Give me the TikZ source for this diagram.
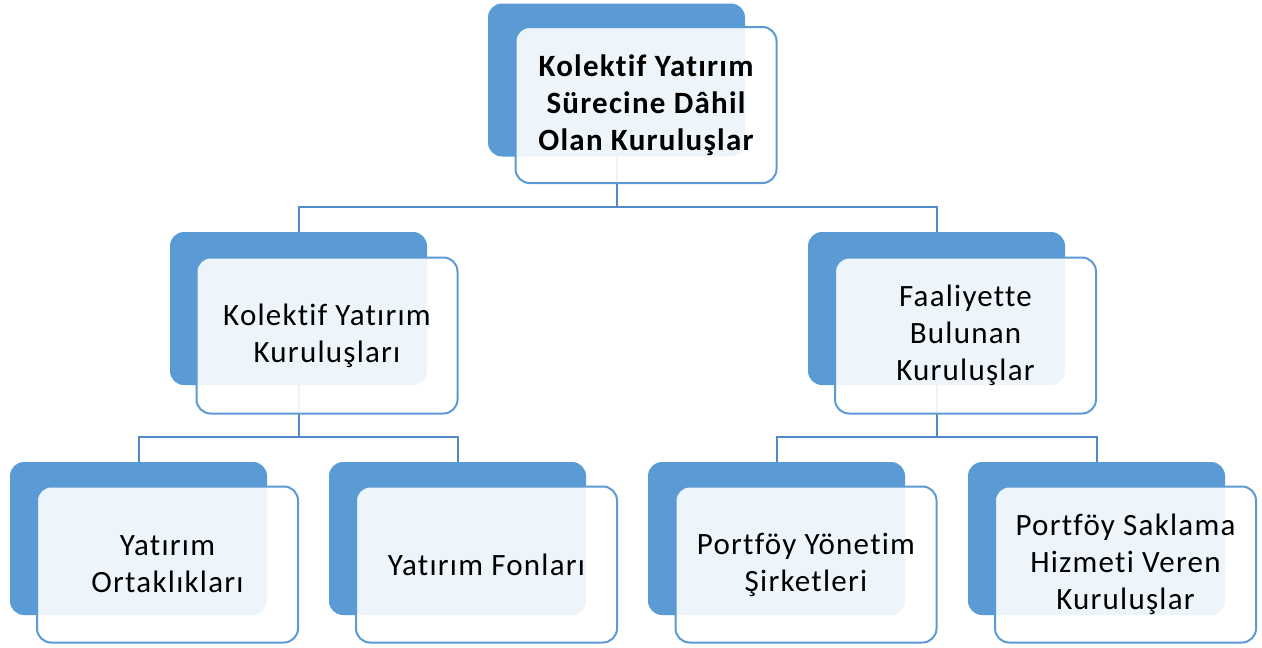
\documentclass[tikz,border=0pt]{standalone}
\usepackage{fontspec}
\setmainfont[Ligatures=NoCommon,LetterSpace=4]{Carlito}
\definecolor{accent}{HTML}{5B9BD5}
\definecolor{linkcol}{HTML}{5089C6}
\tikzset{
  backbox/.style={fill=accent, rounded corners=14pt, minimum width=257pt, minimum height=153pt, inner sep=0pt},
  frontbox/.style={draw=accent, line width=2pt, fill=white, fill opacity=0.9, text opacity=1,
    rounded corners=14pt, minimum width=261pt, minimum height=156pt, inner sep=0pt,
    align=center, font=\fontsize{31}{37}\selectfont},
  conn/.style={draw=linkcol, line width=2pt},
}
\begin{document}
\begin{tikzpicture}[x=1pt,y=-1pt]
\useasboundingbox (0,0) rectangle (1262,648);

% junction points of the tree lines
\coordinate (j0) at (616.5,207);
\coordinate (j1) at (298.5,437);
\coordinate (j2) at (936.5,437);

% back (filled) boxes
\node[backbox] (b0) at (616.5,80) {};
\node[backbox] (b1) at (298.5,308.5) {};
\node[backbox] (b2) at (936.5,308.5) {};
\node[backbox] (b3) at (138.5,538.5) {};
\node[backbox] (b4) at (457.5,538.5) {};
\node[backbox] (b5) at (776.5,538.5) {};
\node[backbox] (b6) at (1096.5,538.5) {};

% tree connectors
\draw[conn] (b0.south) -- (j0);
\draw[conn] (j0) -| (b1.north);
\draw[conn] (j0) -| (b2.north);
\draw[conn] (b1.south) -- (j1);
\draw[conn] (j1) -| (b3.north);
\draw[conn] (j1) -| (b4.north);
\draw[conn] (b2.south) -- (j2);
\draw[conn] (j2) -| (b5.north);
\draw[conn] (j2) -| (b6.north);

% front (outlined) boxes with the labels
\node[frontbox, font=\fontsize{31}{37}\selectfont\bfseries] (f0) at (646,105)
  {Kolektif Yatırım\\Sürecine Dâhil\\Olan Kuruluşlar};
\node[frontbox] (f1) at (327,335.5) {Kolektif Yatırım\\Kuruluşları};
\node[frontbox] (f2) at (965.5,335.5) {Faaliyette\\Bulunan\\Kuruluşlar};
\node[frontbox] (f3) at (167.5,564.5) {Yatırım\\Ortaklıkları};
\node[frontbox] (f4) at (486.5,564.5) {Yatırım Fonları};
\node[frontbox] (f5) at (806,564.5) {Portföy Yönetim\\Şirketleri};
\node[frontbox] (f6) at (1125.5,564.5) {Portföy Saklama\\Hizmeti Veren\\Kuruluşlar};
\end{tikzpicture}
\end{document}
